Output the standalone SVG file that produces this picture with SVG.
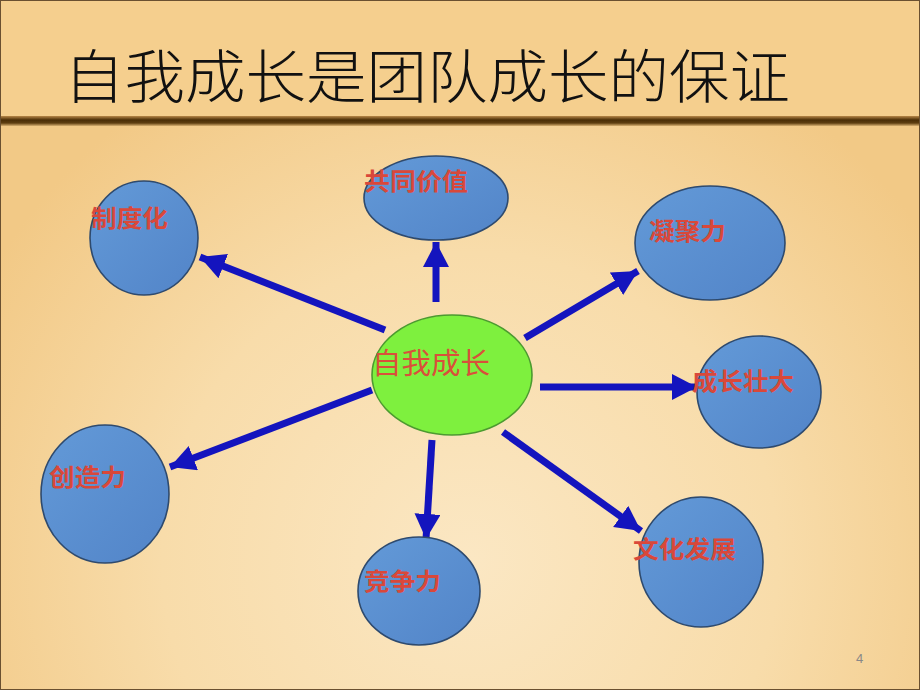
<svg xmlns="http://www.w3.org/2000/svg" width="920" height="690" viewBox="0 0 920 690">
<defs>
<radialGradient id="bg" cx="470" cy="560" r="560" gradientUnits="userSpaceOnUse">
<stop offset="0" stop-color="#FBE7C3"/>
<stop offset="0.55" stop-color="#F8DCAA"/>
<stop offset="1" stop-color="#F2C986"/>
</radialGradient>
<linearGradient id="bar" x1="0" y1="0" x2="0" y2="1">
<stop offset="0" stop-color="#B88848"/>
<stop offset="0.4" stop-color="#4A2E06"/>
<stop offset="0.7" stop-color="#5E3E10"/>
<stop offset="1" stop-color="#D8B070"/>
</linearGradient>
<linearGradient id="blue" x1="0" y1="0" x2="1" y2="1">
<stop offset="0" stop-color="#639AD8"/>
<stop offset="1" stop-color="#5284C8"/>
</linearGradient>
<marker id="ah" markerUnits="userSpaceOnUse" markerWidth="28" markerHeight="28" refX="25" refY="13" orient="auto">
<path d="M0,0 L25,13 L0,26 Z" fill="#1414BE"/>
</marker>
</defs>
<style>
.node{fill:url(#blue);stroke:#2E4A6E;stroke-width:1.6}
.lbl{font-family:"Noto Sans CJK SC","Noto Sans CJK JP",sans-serif;font-weight:bold;font-size:24px;fill:#D9483A}
.con line{stroke:#1414BE;stroke-width:7;marker-end:url(#ah)}
</style>
<rect x="0" y="0" width="920" height="690" fill="url(#bg)"/>
<rect x="0" y="0" width="920" height="118" fill="#F5CF8E"/>
<rect x="0" y="116" width="920" height="10" fill="url(#bar)"/>
<rect x="0.5" y="0.5" width="919" height="689" fill="none" stroke="#6A5030" stroke-width="1"/>
<text id="title" x="64" y="98" font-family="Noto Sans CJK SC, sans-serif" font-size="58" font-weight="300" fill="#111" textLength="726" lengthAdjust="spacingAndGlyphs">自我成长是团队成长的保证</text>

<g class="con" id="connectors">
<line x1="385" y1="330" x2="200" y2="257"/>
<line x1="436" y1="302" x2="436" y2="242"/>
<line x1="525" y1="338" x2="638" y2="271"/>
<line x1="540" y1="387" x2="697" y2="387"/>
<line x1="372" y1="390" x2="170" y2="467"/>
<line x1="432" y1="440" x2="426" y2="539"/>
<line x1="503" y1="432" x2="641" y2="531"/>
</g>

<g id="center">
<ellipse cx="452" cy="375" rx="80" ry="60" fill="#7EF03E" stroke="#4C9A30" stroke-width="1.6"/>
<text x="372" y="374" font-family="Noto Sans CJK SC, sans-serif" font-size="29" fill="#D9503A" textLength="118" lengthAdjust="spacingAndGlyphs">自我成长</text>
</g>
<g id="n-zhiduhua">
<ellipse class="node" cx="144" cy="238" rx="54" ry="57"/>
<text class="lbl" x="91" y="227" textLength="77" lengthAdjust="spacingAndGlyphs">制度化</text>
</g>
<g id="n-gongtong">
<ellipse class="node" cx="436" cy="198" rx="72" ry="42"/>
<text class="lbl" x="364" y="190" textLength="104" lengthAdjust="spacingAndGlyphs">共同价值</text>
</g>
<g id="n-ningju">
<ellipse class="node" cx="710" cy="243" rx="75" ry="57"/>
<text class="lbl" x="649" y="240" textLength="77" lengthAdjust="spacingAndGlyphs">凝聚力</text>
</g>
<g id="n-chengzhang">
<ellipse class="node" cx="759" cy="392" rx="62" ry="56"/>
<text class="lbl" x="692" y="390" textLength="102" lengthAdjust="spacingAndGlyphs">成长壮大</text>
</g>
<g id="n-chuangzao">
<ellipse class="node" cx="105" cy="494" rx="64" ry="69"/>
<text class="lbl" x="49" y="486" textLength="77" lengthAdjust="spacingAndGlyphs">创造力</text>
</g>
<g id="n-jingzheng">
<ellipse class="node" cx="419" cy="591" rx="61" ry="54"/>
<text class="lbl" x="364" y="590" textLength="77" lengthAdjust="spacingAndGlyphs">竞争力</text>
</g>
<g id="n-wenhua">
<ellipse class="node" cx="701" cy="562" rx="62" ry="65"/>
<text class="lbl" x="633" y="558" textLength="103" lengthAdjust="spacingAndGlyphs">文化发展</text>
</g>
<text x="856" y="663" font-family="Liberation Sans, sans-serif" font-size="13" fill="#888">4</text>
</svg>
